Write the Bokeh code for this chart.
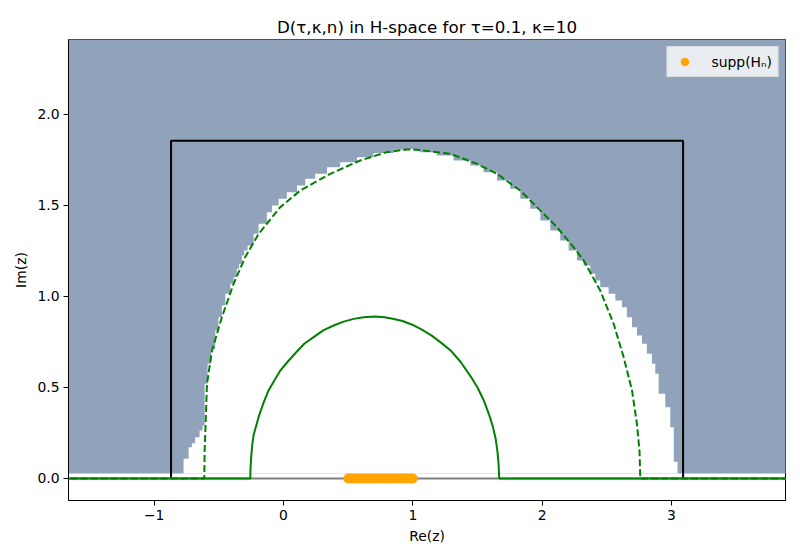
from bokeh.plotting import figure
from bokeh.models import Range1d, FixedTicker, Legend, LegendItem
from bokeh.embed import file_html
from bokeh.resources import INLINE

# ---------------- data ----------------
x_min, x_max = -1.663, 3.882
y_min, y_max = -0.121, 2.412

x_ticks = [-1, 0, 1, 2, 3]
x_tick_labels = ["\u22121", "0", "1", "2", "3"]
y_ticks = [0.0, 0.5, 1.0, 1.5, 2.0]
y_tick_labels = ["0.0", "0.5", "1.0", "1.5", "2.0"]

# shaded (outside) region extent
shade_left, shade_right = -1.8, 4.0
shade_bottom, shade_top = 0.027, 2.6

# white domain: ascending side (left edge x, top of that step)
dom_left_x = [-0.773, -0.734, -0.709, -0.683, -0.649, -0.626, -0.610, -0.587,
              -0.559, -0.528, -0.503, -0.477, -0.450, -0.412, -0.386, -0.361,
              -0.343, -0.322, -0.304, -0.278, -0.231, -0.193, -0.129, -0.089,
              -0.038, 0.026, 0.104, 0.168, 0.245, 0.336, 0.438, 0.568, 0.696,
              0.851, 0.980]
dom_left_top = [0.108, 0.172, 0.194, 0.227, 0.264, 0.291, 0.520, 0.630,
                0.712, 0.813, 0.886, 0.950, 1.015, 1.070, 1.106, 1.152,
                1.180, 1.225, 1.253, 1.280, 1.344, 1.399, 1.463, 1.500,
                1.537, 1.573, 1.610, 1.647, 1.674, 1.710, 1.738, 1.765, 1.788,
                1.806, 1.811]
# descending side (right edge x, top of that edge segment)
dom_right_x = [1.056, 1.186, 1.315, 1.444, 1.547, 1.651, 1.753, 1.831, 1.908,
               1.986, 2.063, 2.140, 2.205, 2.269, 2.321, 2.372, 2.411, 2.449,
               2.514, 2.566, 2.617, 2.655, 2.695, 2.733, 2.772, 2.810, 2.849,
               2.875, 2.901, 2.952, 2.991, 3.018, 3.047]
dom_right_top = [1.811, 1.793, 1.775, 1.747, 1.720, 1.683, 1.637, 1.592, 1.537,
                 1.482, 1.418, 1.363, 1.308, 1.253, 1.198, 1.170, 1.125, 1.088,
                 1.051, 1.015, 0.978, 0.941, 0.886, 0.831, 0.786, 0.740, 0.685,
                 0.630, 0.575, 0.465, 0.392, 0.282, 0.092]

# bounding box (open at the bottom, which lies on the real axis)
box_left, box_right = -0.870, 3.090
box_bottom, box_top = 0.0, 1.855

# dashed boundary curve
outer_x = [-1.8, -0.613, -0.610, -0.603, -0.592, -0.554, -0.477, -0.386, -0.297,
           -0.193, -0.025, 0.129, 0.361, 0.593, 0.799, 0.954, 1.032, 1.289,
           1.495, 1.651, 1.831, 1.960, 2.114, 2.243, 2.321, 2.449, 2.553,
           2.630, 2.695, 2.733, 2.753, 2.759, 4.0]
outer_y = [0.0, 0.0, 0.150, 0.300, 0.520, 0.700, 0.886, 1.070, 1.216,
           1.344, 1.491, 1.582, 1.674, 1.747, 1.793, 1.808, 1.806, 1.784,
           1.729, 1.674, 1.582, 1.491, 1.381, 1.271, 1.198, 1.033, 0.850,
           0.667, 0.484, 0.300, 0.150, 0.0, 0.0]

# solid inner curve
inner_x = [-1.8, -0.257, -0.255, -0.249, -0.241, -0.231, -0.193, -0.155, -0.116,
           -0.070, -0.025, 0.030, 0.091, 0.160, 0.241, 0.310, 0.392, 0.465,
           0.543, 0.620, 0.709, 0.780, 0.845, 0.920, 0.995, 1.070, 1.146,
           1.220, 1.297, 1.370, 1.448, 1.500, 1.548, 1.590, 1.619, 1.640,
           1.654, 1.663, 1.668, 4.0]
inner_y = [0.0, 0.0, 0.060, 0.130, 0.190, 0.240, 0.337, 0.415, 0.484,
           0.540, 0.593, 0.640, 0.688, 0.740, 0.781, 0.815, 0.842, 0.862,
           0.877, 0.886, 0.890, 0.886, 0.878, 0.865, 0.845, 0.818, 0.785,
           0.745, 0.700, 0.640, 0.560, 0.500, 0.430, 0.350, 0.285, 0.220,
           0.150, 0.080, 0.0, 0.0]

# real axis
axis_x = [-1.8, 4.0]
axis_y = [0.0, 0.0]

# support of H_n
supp_x = [0.500, 0.525, 0.550, 0.575, 0.600, 0.625, 0.650, 0.675, 0.700,
          0.725, 0.750, 0.775, 0.800, 0.825, 0.850, 0.875, 0.900, 0.925,
          0.950, 0.975, 1.000]
supp_y = [0.0] * len(supp_x)

# ---------------- build white domain outline ----------------
poly_x = [dom_left_x[0]]
poly_y = [shade_bottom]
for i, (xv, yv) in enumerate(zip(dom_left_x, dom_left_top)):
    poly_x.append(xv); poly_y.append(yv)
    nx = dom_left_x[i + 1] if i + 1 < len(dom_left_x) else dom_right_x[0]
    poly_x.append(nx); poly_y.append(yv)
for i, (xv, yv) in enumerate(zip(dom_right_x, dom_right_top)):
    poly_x.append(xv); poly_y.append(yv)
    ny = dom_right_top[i + 1] if i + 1 < len(dom_right_top) else shade_bottom
    poly_x.append(xv); poly_y.append(ny)

box_x = [box_left, box_left, box_right, box_right]
box_y = [box_bottom, box_top, box_top, box_bottom]

# ---------------- figure ----------------
FONT = "DejaVu Sans"
p = figure(frame_width=717, frame_height=461,
           x_range=Range1d(x_min, x_max), y_range=Range1d(y_min, y_max),
           output_backend="svg", toolbar_location=None,
           min_border_left=68, min_border_right=15,
           min_border_top=39, min_border_bottom=60,
           background_fill_color="white", border_fill_color="white")

p.title.text = "D(\u03c4,\u03ba,n) in H-space for \u03c4=0.1, \u03ba=10"
p.title.align = "center"
p.title.text_font = FONT
p.title.text_font_size = "16.7px"
p.title.text_font_style = "normal"
p.title.text_color = "black"
p.title.standoff = 6

p.quad(left=shade_left, right=shade_right, bottom=shade_bottom, top=shade_top,
       fill_color="#91a3bb", line_color=None)
p.patch(poly_x, poly_y, fill_color="white", line_color=None)

p.line(box_x, box_y, line_color="black", line_width=2)
p.line(axis_x, axis_y, line_color="gray", line_width=2)
p.line(inner_x, inner_y, line_color="green", line_width=2)
p.line(outer_x, outer_y, line_color="green", line_width=2, line_dash="7 3")
r_supp = p.scatter(supp_x, supp_y, size=9, fill_color="orange",
                   line_color="orange")

legend = Legend(items=[LegendItem(label="supp(H\u2099)", renderers=[r_supp])],
                location="top_right")
legend.margin = 7
legend.padding = 5
legend.glyph_width = 24
legend.glyph_height = 19
legend.label_height = 19
legend.label_standoff = 15
legend.label_text_font = FONT
legend.label_text_font_size = "13.9px"
legend.label_text_color = "black"
legend.border_line_color = "#cccccc"
legend.background_fill_color = "white"
legend.background_fill_alpha = 0.8
p.add_layout(legend)

p.xgrid.visible = False
p.ygrid.visible = False
p.outline_line_color = "black"
p.outline_line_width = 1

p.xaxis.ticker = FixedTicker(ticks=x_ticks)
p.yaxis.ticker = FixedTicker(ticks=y_ticks)
p.xaxis.major_label_overrides = {t: l for t, l in zip(x_ticks, x_tick_labels)}
p.yaxis.major_label_overrides = {t: l for t, l in zip(y_ticks, y_tick_labels)}
p.xaxis.axis_label = "Re(z)"
p.yaxis.axis_label = "Im(z)"
for ax in (p.xaxis, p.yaxis):
    ax.axis_line_color = "black"
    ax.major_tick_line_color = "black"
    ax.major_tick_out = 5
    ax.major_tick_in = 0
    ax.minor_tick_line_color = None
    ax.major_label_text_font = FONT
    ax.major_label_text_font_size = "13.9px"
    ax.major_label_text_color = "black"
    ax.major_label_standoff = 4
    ax.axis_label_text_font = FONT
    ax.axis_label_text_font_size = "13.9px"
    ax.axis_label_text_font_style = "normal"
    ax.axis_label_text_color = "black"
    ax.axis_label_standoff = 5

open("out.html", "w").write(file_html(p, INLINE))
